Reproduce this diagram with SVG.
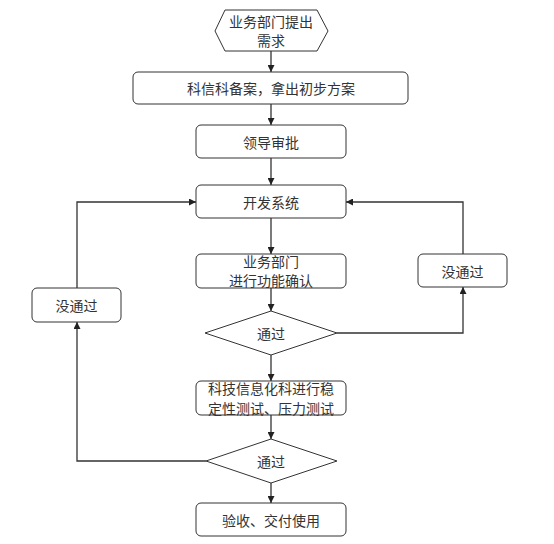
<svg xmlns="http://www.w3.org/2000/svg" width="554" height="544" viewBox="0 0 554 544">
<style>
.n{fill:#fff;stroke:#333;stroke-width:1}
.t{font-family:"Noto Sans CJK SC","Noto Sans",sans-serif;font-size:14px;fill:#333;text-anchor:middle;dominant-baseline:central}
.c{fill:none;stroke:#333;stroke-width:1.3}
</style>
<defs>
<marker id="a" viewBox="0 0 10 10" refX="10" refY="5" markerWidth="7" markerHeight="7" markerUnits="userSpaceOnUse" orient="auto">
<path d="M0,0 L10,5 L0,10 z" fill="#222"/>
</marker>
</defs>
<rect width="554" height="544" fill="#fff"/>
<g id="connectors">
<path class="c" d="M271,51 V72" marker-end="url(#a)"/>
<path class="c" d="M271,104 V125" marker-end="url(#a)"/>
<path class="c" d="M271,158 V185" marker-end="url(#a)"/>
<path class="c" d="M271,218 V254" marker-end="url(#a)"/>
<path class="c" d="M271,288 V311" marker-end="url(#a)"/>
<path class="c" d="M271,355 V381" marker-end="url(#a)"/>
<path class="c" d="M271,415 V439" marker-end="url(#a)"/>
<path class="c" d="M271,483 V503" marker-end="url(#a)"/>
<path class="c" d="M337,333 H463 V287" marker-end="url(#a)"/>
<path class="c" d="M463,254 V202 H346" marker-end="url(#a)"/>
<path class="c" d="M206,461 H77 V322" marker-end="url(#a)"/>
<path class="c" d="M77,288 V202 H196" marker-end="url(#a)"/>
</g>
<g id="start">
<polygon class="n" points="215,31 225,10 317,10 328,31 317,51 225,51"/>
<text class="t" x="271" y="21">业务部门提出</text>
<text class="t" x="271" y="40">需求</text>
</g>
<g id="plan">
<rect class="n" x="133" y="72" width="275" height="32" rx="5"/>
<text class="t" x="271" y="88">科信科备案，拿出初步方案</text>
</g>
<g id="approve">
<rect class="n" x="196" y="125" width="150" height="33" rx="5"/>
<text class="t" x="271" y="141.5">领导审批</text>
</g>
<g id="develop">
<rect class="n" x="196" y="185" width="150" height="33" rx="5"/>
<text class="t" x="271" y="201.5">开发系统</text>
</g>
<g id="confirm">
<rect class="n" x="196" y="254" width="150" height="34" rx="5"/>
<text class="t" x="271" y="261">业务部门</text>
<text class="t" x="271" y="280">进行功能确认</text>
</g>
<g id="pass1">
<polygon class="n" points="205,333 271,311 337,333 271,355"/>
<text class="t" x="271" y="333">通过</text>
</g>
<g id="test">
<rect class="n" x="196" y="381" width="150" height="34" rx="5"/>
<text class="t" x="271" y="388">科技信息化科进行稳</text>
<text class="t" x="271" y="407.5">定性测试、压力测试</text>
</g>
<g id="pass2">
<polygon class="n" points="206,461 271,439 337,461 271,483"/>
<text class="t" x="271" y="461">通过</text>
</g>
<g id="deliver">
<rect class="n" x="196" y="503" width="150" height="33" rx="5"/>
<text class="t" x="271" y="519.5">验收、交付使用</text>
</g>
<g id="fail-left">
<rect class="n" x="32" y="288" width="89" height="34" rx="5"/>
<text class="t" x="76.5" y="305">没通过</text>
</g>
<g id="fail-right">
<rect class="n" x="418" y="254" width="89" height="33" rx="5"/>
<text class="t" x="462.5" y="270.5">没通过</text>
</g>
</svg>
